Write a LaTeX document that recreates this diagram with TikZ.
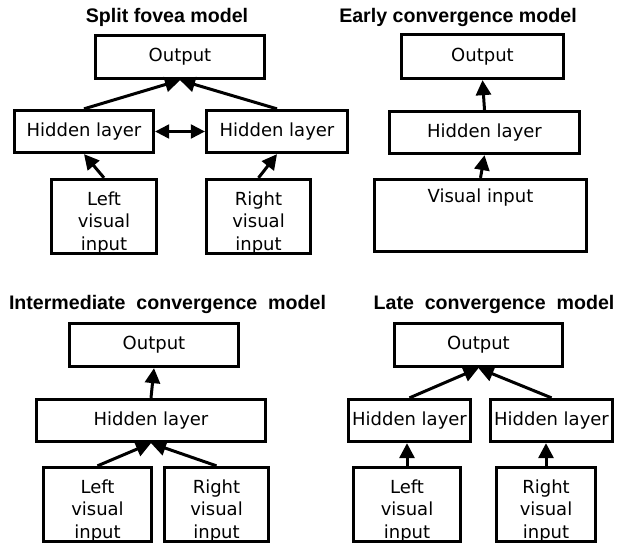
\documentclass[tikz,border=0pt]{standalone}
\usepackage{fontspec}
\setmainfont{DejaVu Sans}
\newfontfamily\titlefont{Liberation Sans}
\usetikzlibrary{arrows.meta}

\begin{document}
\begin{tikzpicture}[x=1pt,y=-1pt,
	box/.style={draw,line width=3.3pt,inner sep=0pt,align=center,font=\fontsize{18}{22.8}\selectfont},
	txt/.style={inner sep=0pt,align=center,font=\fontsize{18}{22.8}\selectfont},
	ttl/.style={anchor=base,inner sep=0pt,font=\titlefont\bfseries\fontsize{19.6}{22}\selectfont},
	arr/.style={line width=3pt,-{Triangle[length=15pt,width=15pt]}},
	arrboth/.style={line width=2.2pt,{Triangle[length=14pt,width=14pt]}-{Triangle[length=14pt,width=14pt]}}]
\useasboundingbox (0,0) rectangle (618,546);

% split fovea
\node[ttl] (t1) at (167,23) {Split fovea model};
\node[box,minimum width=169,minimum height=43] (out1) at (180,57) {Output};
\node[box,minimum width=139,minimum height=42] (hidL1) at (84,131.5) {Hidden layer};
\node[box,minimum width=141,minimum height=42] (hidR1) at (277,131.5) {Hidden layer};
\node[box,minimum width=105,minimum height=74] (inL1) at (104,216.5) {};
\node[box,minimum width=104,minimum height=74] (inR1) at (258.5,216.5) {};
\node[txt] (inL1t) at ([yshift=-6.5pt]inL1.center) {Left\\visual\\input};
\node[txt] (inR1t) at ([yshift=-6.5pt]inR1.center) {Right\\visual\\input};
\draw[arr] (hidL1.north) -- (out1.south);
\draw[arr] (hidR1.north) -- (out1.south);
\draw[arrboth] (hidL1.east) -- (hidR1.west);
\draw[arr] (inL1.north) -- (hidL1.south);
\draw[arr] (inR1.north) -- (hidR1.south);

% early convergence
\node[ttl] (t2) at (458,23) {Early convergence model};
\node[box,minimum width=162,minimum height=44] (out2) at (482.5,56.5) {Output};
\node[box,minimum width=190,minimum height=42] (hid2) at (484.5,132.5) {Hidden layer};
\node[box,minimum width=212,minimum height=72] (vin2) at (480.5,215.5) {};
\node[txt,anchor=base] (vin2t) at ([yshift=-24.5pt]vin2.north) {Visual input};
\draw[arr] (hid2.north) -- (out2.south);
\draw[arr] (vin2.north) -- (hid2.south);

% intermediate convergence
\node[ttl] (t3) at (167.5,309) {Intermediate\ \ convergence\ \ model};
\node[box,minimum width=169,minimum height=43] (out3) at (154,345) {Output};
\node[box,minimum width=229,minimum height=42] (hid3) at (151,420.5) {Hidden layer};
\node[box,minimum width=108,minimum height=74] (inL3) at (97.5,504.5) {};
\node[box,minimum width=104,minimum height=74] (inR3) at (216.5,504.5) {};
\node[txt] (inL3t) at ([yshift=-6.5pt]inL3.center) {Left\\visual\\input};
\node[txt] (inR3t) at ([yshift=-6.5pt]inR3.center) {Right\\visual\\input};
\draw[arr] (hid3.north) -- (out3.south);
\draw[arr] (inL3.north) -- (hid3.south);
\draw[arr] (inR3.north) -- (hid3.south);

% late convergence
\node[ttl] (t4) at (494,309) {Late\ \ convergence\ \ model};
\node[box,minimum width=168,minimum height=43] (out4) at (478.5,345) {Output};
\node[box,minimum width=122,minimum height=42] (hidL4) at (409.5,420.5) {Hidden layer};
\node[box,minimum width=122,minimum height=42] (hidR4) at (551.5,420.5) {Hidden layer};
\node[box,minimum width=107,minimum height=74] (inL4) at (407,504.5) {};
\node[box,minimum width=99,minimum height=74] (inR4) at (546,504.5) {};
\node[txt] (inL4t) at ([yshift=-6.5pt]inL4.center) {Left\\visual\\input};
\node[txt] (inR4t) at ([yshift=-6.5pt]inR4.center) {Right\\visual\\input};
\draw[arr] (hidL4.north) -- (out4.south);
\draw[arr] (hidR4.north) -- (out4.south);
\draw[arr] (inL4.north) -- (inL4.north |- hidL4.south);
\draw[arr] (inR4.north) -- (inR4.north |- hidR4.south);
\end{tikzpicture}
\end{document}
